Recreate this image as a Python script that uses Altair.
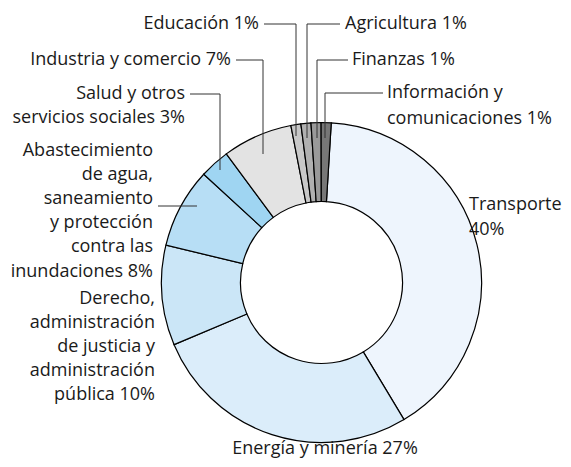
import math
import altair as alt
import pandas as pd

# ---- data ----
categories = [
    "Transporte", "Energía y minería",
    "Derecho, administración de justicia y administración pública",
    "Abastecimiento de agua, saneamiento y protección contra las inundaciones",
    "Salud y otros servicios sociales", "Industria y comercio",
    "Educación", "Agricultura", "Finanzas", "Información y comunicaciones",
]
values = [40, 27, 10, 8, 3, 7, 1, 1, 1, 1]
colors = ["#eef5fd", "#dbedfa", "#cbe6f7", "#b7def5", "#9fd5f2",
          "#e3e3e3", "#c8c8c8", "#b0b0b0", "#999999", "#777777"]

# label layout (picture pixel coords; page offset 8 px)
OFF = 8
label_lines = [
    # text, x, y, align
    ("Educación 1%", 259, 24, "right"),
    ("Industria y comercio 7%", 231, 60, "right"),
    ("Salud y otros", 185, 94, "right"),
    ("servicios sociales 3%", 185, 118, "right"),
    ("Abastecimiento", 153, 151, "right"),
    ("de agua,", 153, 175, "right"),
    ("saneamiento", 153, 199, "right"),
    ("y protección", 153, 223, "right"),
    ("contra las", 153, 247, "right"),
    ("inundaciones 8%", 153, 272, "right"),
    ("Derecho,", 155, 299, "right"),
    ("administración", 155, 323, "right"),
    ("de justicia y", 155, 347, "right"),
    ("administración", 155, 371, "right"),
    ("pública 10%", 155, 395, "right"),
    ("Energía y minería 27%", 325, 449, "center"),
    ("Transporte", 469, 205, "left"),
    ("40%", 469, 230, "left"),
    ("Agricultura 1%", 345, 24, "left"),
    ("Finanzas 1%", 352, 60, "left"),
    ("Información y", 387, 93, "left"),
    ("comunicaciones 1%", 387, 119, "left"),
]
leader_segments = [
    # x1, y1, x2, y2
    (264, 24, 296, 24), (296, 24, 296, 136),
    (236, 60, 263, 60), (263, 60, 263, 154),
    (190, 94, 220, 94), (220, 94, 220, 170),
    (158, 206, 197, 206),
    (307, 24, 340, 24), (307, 24, 307, 138),
    (317, 60, 348, 60), (317, 60, 317, 138),
    (325, 93, 383, 93), (325, 93, 325, 138),
]

cx, cy = 321.5 - OFF, 282.5 - OFF
start = math.radians(3.5)

pie_df = pd.DataFrame({"cat": categories, "value": values, "idx": list(range(len(values)))})
arc = alt.Chart(pie_df).mark_arc(
    outerRadius=160, innerRadius=81, stroke="black", strokeWidth=1.2
).encode(
    theta=alt.Theta("value:Q", stack=True, scale=alt.Scale(range=[start, start + 2 * math.pi])),
    order=alt.Order("idx:Q"),
    color=alt.Color("cat:N", scale=alt.Scale(domain=categories, range=colors), legend=None),
    x=alt.value(cx), y=alt.value(cy),
)

seg_df = pd.DataFrame([
    {"x": a - OFF, "y": b - OFF, "x2": c - OFF, "y2": d - OFF} for a, b, c, d in leader_segments
])
rules = alt.Chart(seg_df).mark_rule(color="#333333", strokeWidth=1).encode(
    x=alt.X("x:Q", scale=None), y=alt.Y("y:Q", scale=None),
    x2="x2:Q", y2="y2:Q",
)

txt_df = pd.DataFrame([
    {"t": t, "x": x - OFF, "y": y - OFF, "al": al} for t, x, y, al in label_lines
])
texts = []
for al in ["left", "center", "right"]:
    texts.append(
        alt.Chart(txt_df[txt_df.al == al]).mark_text(
            align=al, baseline="middle", font="Open Sans", fontSize=18, color="#1a1a1a"
        ).encode(x=alt.X("x:Q", scale=None), y=alt.Y("y:Q", scale=None), text="t:N")
    )

chart = alt.layer(arc, rules, *texts).properties(
    width=555, height=451, padding=0,
    autosize=alt.AutoSizeParams(type="none"),
).configure_view(stroke=None)

chart.save("out.html", embed_options={"renderer": "svg", "actions": False})
